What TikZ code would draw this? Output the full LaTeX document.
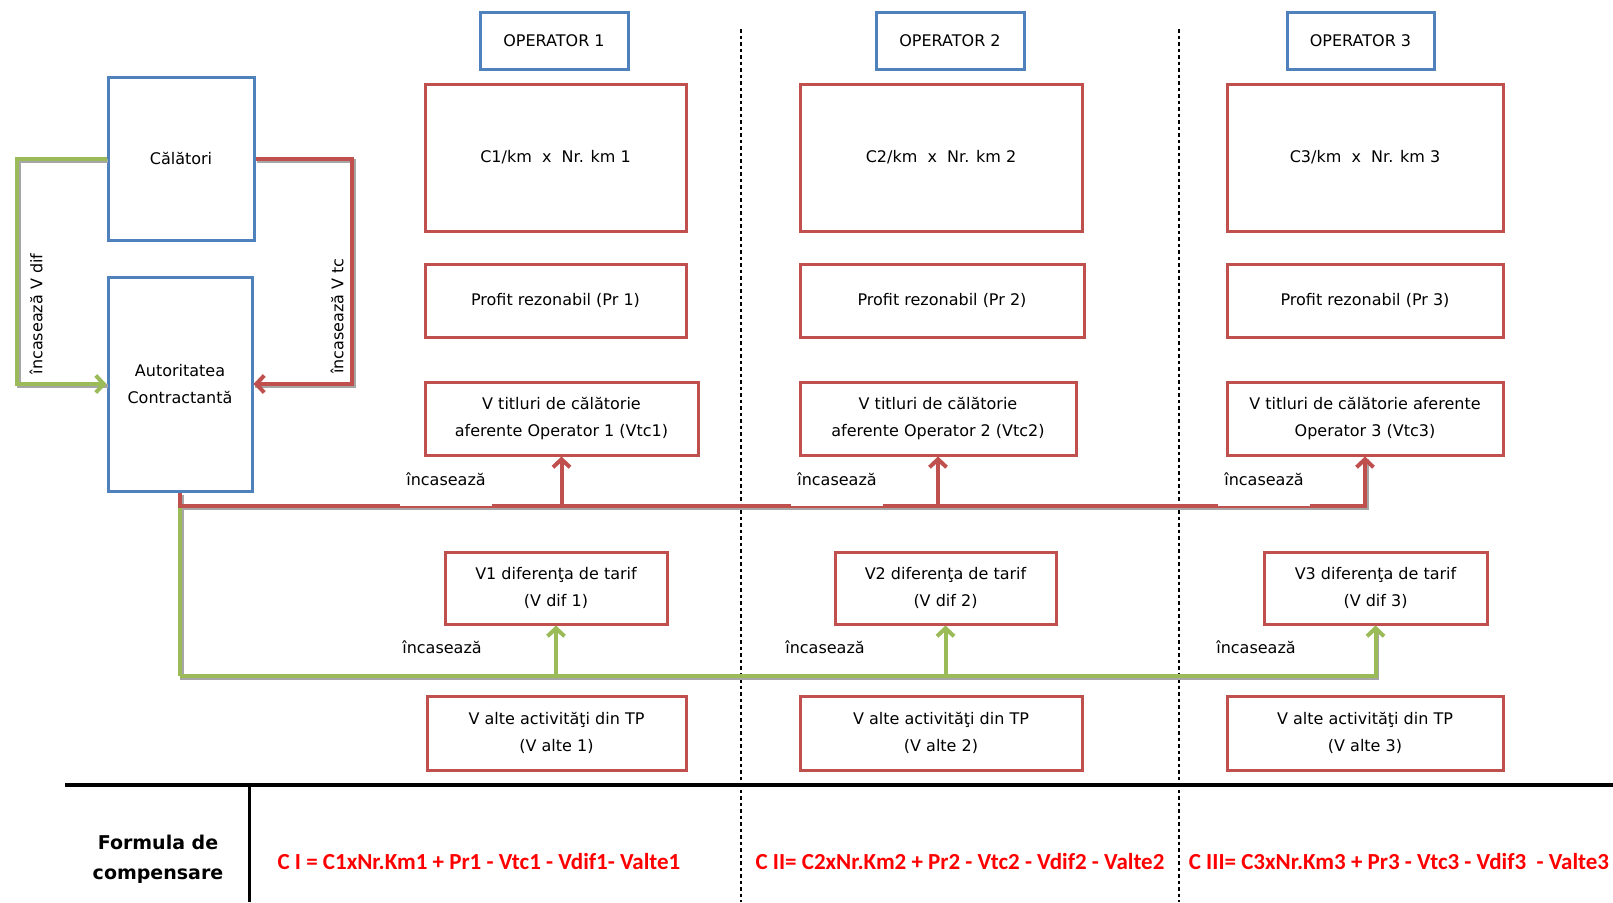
\documentclass[tikz,border=0pt]{standalone}
\usepackage{fontspec}
\setmainfont{DejaVu Sans}
\newfontfamily\carl{Carlito}
\usetikzlibrary{arrows.meta}
\definecolor{obl}{HTML}{4F81BD}
\definecolor{ore}{HTML}{C0504D}
\definecolor{ogr}{HTML}{9BBB59}
\definecolor{fred}{HTML}{FF0000}
\begin{document}
\begin{tikzpicture}[x=1pt,y=-1pt,
  every node/.style={font=\fontsize{16}{27}\selectfont},
  bbox/.style={draw=obl, line width=3pt, align=center, inner sep=0pt},
  rbox/.style={draw=ore, line width=3pt, align=center, inner sep=0pt},
  shad/.style={line width=4pt, draw=black!35, transform canvas={xshift=1.5pt,yshift=-2pt}},
  con/.style={line width=4pt},
  tip/.style={-{Straight Barb[length=8pt,width=17pt]}},
  lbl/.style={fill=white, inner xsep=6pt, inner ysep=0pt, text height=13pt, text depth=20.5pt, anchor=base},
  rlbl/.style={rotate=90},
  dline/.style={line width=1.2pt, dash pattern=on 3.5pt off 3pt},
  formula/.style={text=fred, font=\carl\bfseries\fontsize{23}{25}\selectfont},
]
\useasboundingbox[fill=white] (0,0) rectangle (1613,902);

% dashed separators
\coordinate (d1t) at (741,29); \coordinate (d1b) at (741,902);
\coordinate (d2t) at (1179,29); \coordinate (d2b) at (1179,902);
\draw[dline] (d1t) -- (d1b);
\draw[dline] (d2t) -- (d2b);

% left boxes
\node[bbox, minimum width=146pt, minimum height=163pt] (cal) at (181,158.5) {Călători};
\node[bbox, minimum width=144pt, minimum height=214pt] (aut) at (180,384) {Autoritatea\\Contractantă};

% operators
\node[bbox, minimum width=148pt, minimum height=57pt] (op1) at (554,40.5) {OPERATOR 1};
\node[bbox, minimum width=148pt, minimum height=57pt] (op2) at (950,40.5) {OPERATOR 2};
\node[bbox, minimum width=147pt, minimum height=57pt] (op3) at (1360.5,40.5) {OPERATOR 3};

\node[rbox, minimum width=261pt, minimum height=147pt] (c1) at (555.5,157.5) {C1/km\ \ x\ \ Nr. km 1};
\node[rbox, minimum width=282pt, minimum height=147pt] (c2) at (941,157.5) {C2/km\ \ x\ \ Nr. km 2};
\node[rbox, minimum width=276pt, minimum height=147pt] (c3) at (1365,157.5) {C3/km\ \ x\ \ Nr. km 3};

\node[rbox, minimum width=261pt, minimum height=73pt] (p1) at (555.5,300.5) {Profit rezonabil (Pr 1)};
\node[rbox, minimum width=284pt, minimum height=73pt] (p2) at (942,300.5) {Profit rezonabil (Pr 2)};
\node[rbox, minimum width=276pt, minimum height=73pt] (p3) at (1365,300.5) {Profit rezonabil (Pr 3)};

\node[rbox, minimum width=273pt, minimum height=73pt] (v1) at (561.5,418.5) {V titluri de călătorie\\aferente Operator 1 (Vtc1)};
\node[rbox, minimum width=276pt, minimum height=73pt] (v2) at (938,418.5) {V titluri de călătorie\\aferente Operator 2 (Vtc2)};
\node[rbox, minimum width=276pt, minimum height=73pt] (v3) at (1365,418.5) {V titluri de călătorie aferente\\Operator 3 (Vtc3)};

\node[rbox, minimum width=222pt, minimum height=72pt] (d1) at (556,588) {V1 diferenţa de tarif\\(V dif 1)};
\node[rbox, minimum width=221pt, minimum height=72pt] (d2) at (945.5,588) {V2 diferenţa de tarif\\(V dif 2)};
\node[rbox, minimum width=223pt, minimum height=72pt] (d3) at (1375.5,588) {V3 diferenţa de tarif\\(V dif 3)};

\node[rbox, minimum width=259pt, minimum height=74pt] (a1) at (556.5,733) {V alte activităţi din TP\\(V alte 1)};
\node[rbox, minimum width=282pt, minimum height=74pt] (a2) at (941,733) {V alte activităţi din TP\\(V alte 2)};
\node[rbox, minimum width=276pt, minimum height=74pt] (a3) at (1365,733) {V alte activităţi din TP\\(V alte 3)};

% connector corner points
\coordinate (gl) at (17,158.5);
\coordinate (rl) at (352,158.5);
\coordinate (rj) at (180,506);
\coordinate (gj) at (180,676);

% shadows
\draw[shad] (cal.west) -- (gl) |- (aut.west);
\draw[shad] (cal.east) -- (rl) |- (aut.east);
\draw[shad] (aut.south) -- (rj) -| (v3.south);
\draw[shad] (rj) -- (gj) -| (d3.south);

% left loops
\draw[con, ogr, tip] (cal.west) -- (gl) |- (aut.west);
\draw[con, ore, tip] (cal.east) -- (rl) |- (aut.east);

% green distribution
\draw[con, ogr] (rj) -- (gj);
\draw[con, ogr, tip] (gj) -| (d1.south);
\draw[con, ogr, tip] (gj) -| (d2.south);
\draw[con, ogr, tip] (gj) -| (d3.south);
% red distribution
\draw[con, ore, tip] (aut.south) -- (rj) -| (v1.south);
\draw[con, ore, tip] (rj) -| (v2.south);
\draw[con, ore, tip] (rj) -| (v3.south);

% labels
\node[rlbl] (lv) at (36,314) {încasează V dif};
\node[rlbl] (lt) at (337,316) {încasează V tc};

\node[lbl] (i1) at (446,485) {încasează};
\node[lbl] (i2) at (837,485) {încasează};
\node[lbl] (i3) at (1264,485) {încasează};
\node[lbl] (j1) at (442,653) {încasează};
\node[lbl] (j2) at (825,653) {încasează};
\node[lbl] (j3) at (1256,653) {încasează};

% formula table
\coordinate (hl) at (65,785); \coordinate (hr) at (1613,785);
\coordinate (vt) at (249,785); \coordinate (vb) at (249,902);
\draw[line width=3.5pt] (hl) -- (hr);
\draw[line width=3pt] (vt) -- (vb);
\node[align=center, font=\bfseries\fontsize{19}{30}\selectfont] (fdc) at (158,859) {Formula de\\compensare};
\node[formula] (f1) at (479,862) {C I = C1xNr.Km1 + Pr1 - Vtc1 - Vdif1- Valte1};
\node[formula] (f2) at (960,862) {C II= C2xNr.Km2 + Pr2 - Vtc2 - Vdif2 - Valte2};
\node[formula] (f3) at (1399,862) {C III= C3xNr.Km3 + Pr3 - Vtc3 - Vdif3\ \ - Valte3};
\end{tikzpicture}
\end{document}
